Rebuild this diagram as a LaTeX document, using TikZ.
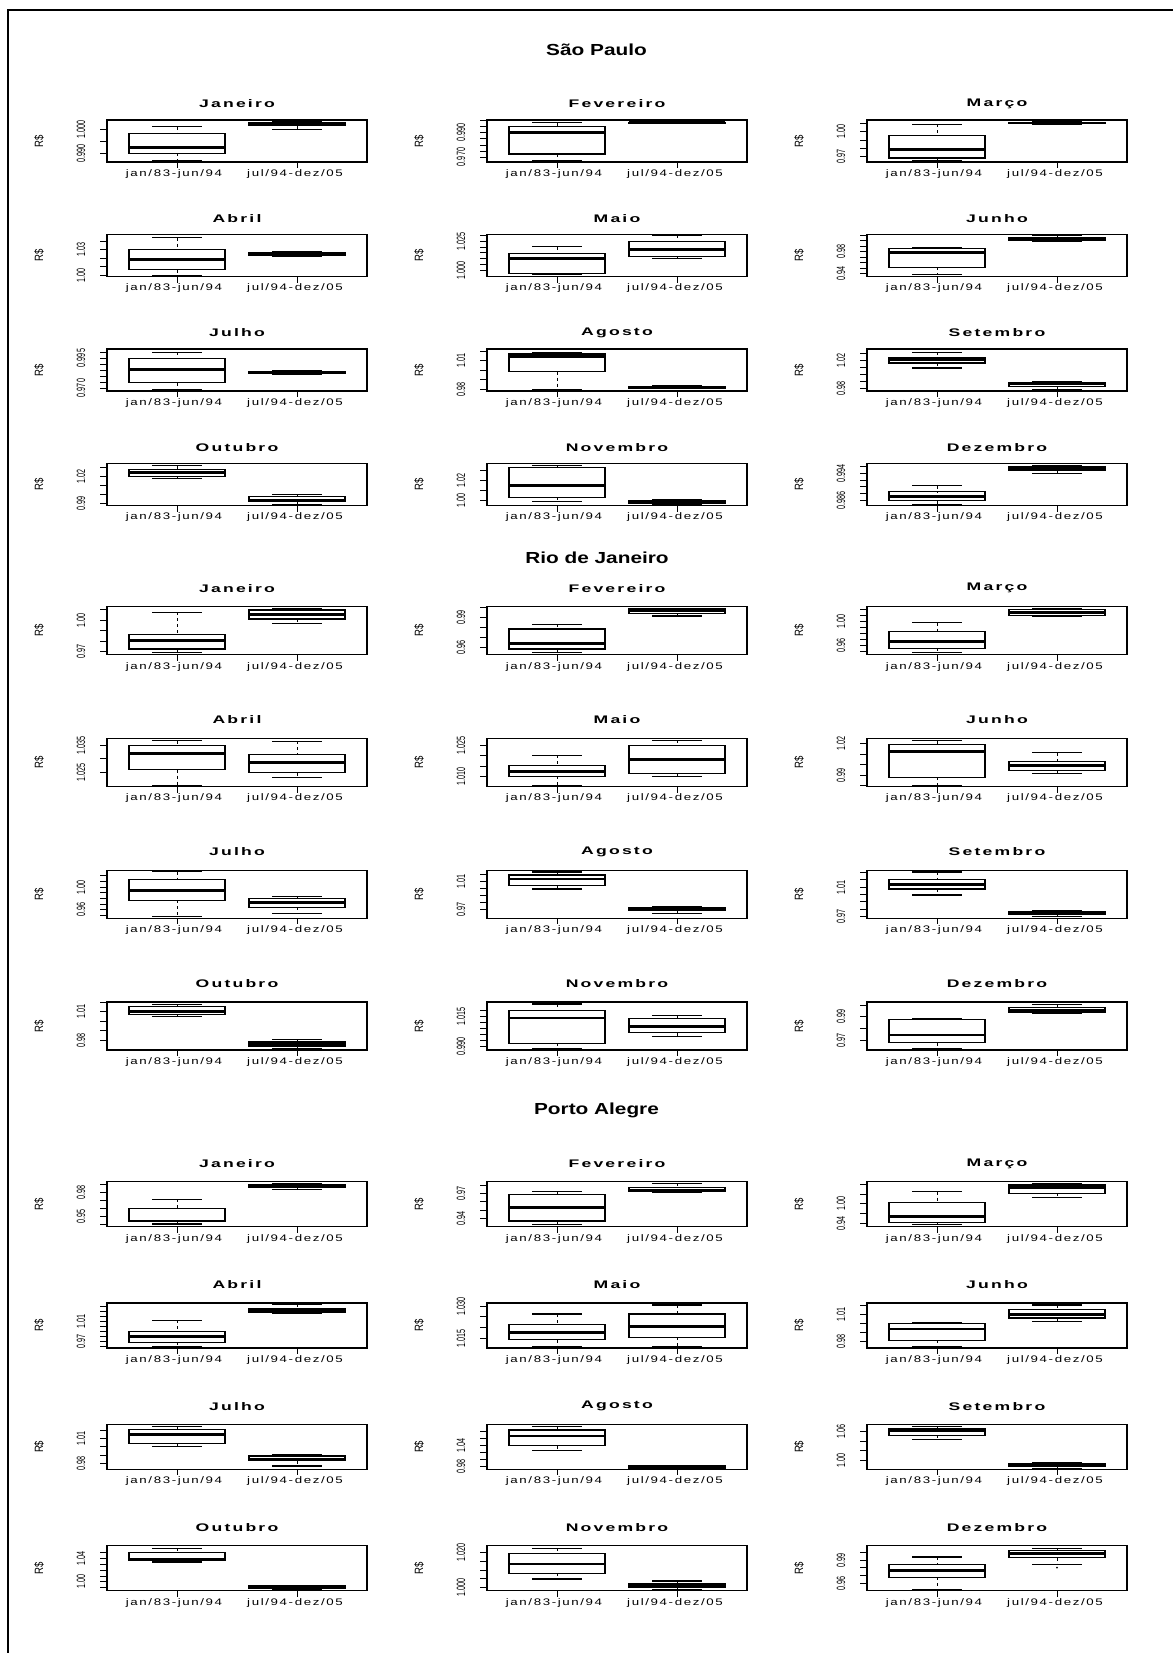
\documentclass[tikz,border=0pt]{standalone}
\usepackage{fontspec}
\setmainfont{Liberation Sans}
\newfontfamily\fontecabeca[FakeStretch=1.3]{Liberation Sans}
\newfontfamily\fontetitulo[FakeStretch=1.6,LetterSpace=20]{Liberation Sans}
\newfontfamily\fonteeixo[FakeStretch=1.4,LetterSpace=17]{Liberation Sans}
\newfontfamily\fontemarca[FakeStretch=0.6]{Liberation Sans}
\newfontfamily\fontemoeda[FakeStretch=0.8]{Liberation Sans}

\tikzset{
  moldura/.style={line width=1.2pt},
  caixa/.style={line width=1.1pt},
  mediana/.style={line width=2.8pt},
  bigode/.style={line width=0.8pt,dash pattern=on 3pt off 3pt},
  haste/.style={line width=1.1pt},
  marca/.style={line width=0.8pt},
  cabeca/.style={font=\fontecabeca\bfseries\fontsize{16}{18}\selectfont},
  titulo/.style={font=\fontetitulo\bfseries\fontsize{11}{13}\selectfont},
  eixo/.style={font=\fonteeixo\fontsize{9.5}{11}\selectfont},
  rotulo/.style={font=\fontemarca\fontsize{12}{14}\selectfont,rotate=90,inner sep=0pt},
  moeda/.style={font=\fontemoeda\fontsize{12}{14}\selectfont,rotate=90,inner sep=0pt}
}

% painel: nome, x esquerda, y topo, altura, titulo, marcas, rotulos, caixa 1, caixa 2
% cada caixa: bigode sup / quartil sup / mediana / quartil inf / bigode inf
\newcommand{\painel}[9]{%
  \draw[moldura] (#2,#3) rectangle ({#2+260},{#3+#4});
  \node[titulo] (#1-tit) at ({#2+130},{#3-\recuotitulo}) {#5};
  \node[moeda] (#1-rs) at ({#2-68},{#3+#4/2}) {R\$};
  \foreach \t in {#6} \draw[marca] ({#2-7},{#3+\t}) -- (#2,{#3+\t});
  \foreach \t/\l [count=\k] in {#7} \node[rotulo] (#1-y\k) at ({#2-26},{#3+\t}) {\l};
  \foreach \cx/\ws/\qs/\md/\qi/\wi in {70/#8,190/#9} {
    \draw[bigode] ({#2+\cx},{#3+\ws}) -- ({#2+\cx},{#3+\qs});
    \draw[bigode] ({#2+\cx},{#3+\qi}) -- ({#2+\cx},{#3+\wi});
    \draw[haste] ({#2+\cx-25},{#3+\ws}) -- ({#2+\cx+25},{#3+\ws});
    \draw[haste] ({#2+\cx-25},{#3+\wi}) -- ({#2+\cx+25},{#3+\wi});
    \draw[caixa] ({#2+\cx-48},{#3+\qs}) rectangle ({#2+\cx+48},{#3+\qi});
    \draw[mediana] ({#2+\cx-48},{#3+\md}) -- ({#2+\cx+48},{#3+\md});
    \draw[marca] ({#2+\cx},{#3+#4}) -- ({#2+\cx},{#3+#4+6});
  }
  \node[eixo] (#1-a) at ({#2+67},{#3+#4+12}) {jan/83-jun/94};
  \node[eixo] (#1-b) at ({#2+188},{#3+#4+12}) {jul/94-dez/05};
}

\begin{document}
\begin{tikzpicture}[x=1pt,y=-1pt]
  \useasboundingbox (0,0) rectangle (1173,1653);
  % Passo 1: moldura externa (so lados esquerdo e superior)
  \draw[line width=1.6pt] (8,1653) -- (8,10) -- (1173,10);

  % Passo 2: São Paulo
  \node[cabeca] (sp) at (596.5,50) {São Paulo};
  \def\recuotitulo{16}
  \painel{sp1}{107}{120}{42}{Janeiro}{9.3,21.3,33.3}{9.3/1.000,33.3/0.990}{6.7/13.3/27.7/33.3/40.3}{2/2.7/4/5.7/9.3}
  \painel{sp2}{487}{120}{42}{Fevereiro}{0.7,6,12.3,18.3,25,31,37}{12.3/0.990,37/0.970}{2.7/6.7/12.3/34/40.3}{1.7/2.3/2.7/3.3/3.7}
  \painel{sp3}{867}{120}{42}{Março}{3.3,11.7,20,28.3,36.7}{11.7/1.00,36.7/0.97}{4.3/15.7/29.3/38/40.3}{2/2.3/3/3.7/4}
  \painel{sp4}{107}{234.5}{42}{Abril}{6.7,15,24,32.3,41}{15/1.03,41/1.00}{3.3/15/25/35/41.5}{17.3/18.3/19.3/21/22}
  \painel{sp5}{487}{234.5}{42}{Maio}{1,6.7,12.7,18.3,24.3,30,36}{6.7/1.025,36/1.000}{12.3/19.3/24.3/39.3/39.6}{1/7.3/15/21.7/24.3}
  \painel{sp6}{867}{234.5}{42}{Junho}{0.5,6,11.5,17,22.5,28,33.5,39}{17/0.98,39/0.94}{12.7/14.3/18.3/32.7/40}{1/3/4.3/6.3/7}
  \painel{sp7}{107}{349}{42}{Julho}{3,9,15,21,27,33,39}{9/0.995,39/0.970}{3.3/9.3/20.7/33.7/41}{21.7/22.7/23.3/24.7/25.3}
  \painel{sp8}{487}{349}{42}{Agosto}{2.3,11.7,21,30.7,40}{11.7/1.01,40/0.98}{3.3/5/7.7/22.7/41}{37/37.7/38.7/39.3/39.7}
  \painel{sp9}{867}{349}{42}{Setembro}{4.8,11.7,18.5,25.3,32.2,39}{11.7/1.02,39/0.98}{3.3/8.3/10.3/14/19}{32.3/33.3/35/37.7/41}
  \painel{sp10}{107}{463.5}{42}{Outubro}{4.3,13.3,22.3,31,40}{13.3/1.02,40/0.99}{2/6/9.3/13.3/15}{31/33.3/37.3/38/40.7}
  \painel{sp11}{487}{463.5}{42}{Novembro}{6.7,16.7,26.7,36.7}{16.7/1.02,36.7/1.00}{1.7/4/22/33.7/38}{36/37/39/40/40.7}
  \painel{sp12}{867}{463.5}{42}{Dezembro}{3.3,10,16.7,23.3,30,36.7}{10/0.994,36.7/0.986}{22/28.3/32.7/37/40.7}{1.7/3.3/5/7.3/10.3}

  % Passo 3: Rio de Janeiro
  \node[cabeca] (rj) at (597,558) {Rio de Janeiro};
  \def\recuotitulo{18.5}
  \painel{rj1}{107}{606.7}{48}{Janeiro}{2.9,13.3,23.9,34.4,45}{13.3/1.00,45/0.97}{5.7/27.7/33.7/42.3/45.7}{1.7/3.3/7.7/12.3/16.7}
  \painel{rj2}{487}{606.7}{48}{Fevereiro}{0.6,10.7,20.8,30.9,41}{10.7/0.99,41/0.96}{17.7/22.3/37/42.3/45.7}{1.7/2.3/3.7/6.7/9.3}
  \painel{rj3}{867}{606.7}{48}{Março}{3,9,15,21,27,33,39,45}{15/1.00,39/0.96}{16/25/34.7/41.7/45.7}{1.7/3/6/8.7/10}
  \painel{rj4}{107}{738.5}{48}{Abril}{6.7,20.3,34}{6.7/1.035,34/1.025}{2/6.7/15/31/46.7}{2.7/16/24.3/34.3/39.3}
  \painel{rj5}{487}{738.5}{48}{Maio}{6.7,17.2,27.8,38.3}{6.7/1.025,38.3/1.010}{16.7/27.3/32.7/37.7/46.7}{1.7/7.3/21/35/37.7}
  \painel{rj6}{867}{738.5}{48}{Junho}{5,15.6,26.1,36.7,47.2}{5/1.02,36.7/0.99}{2/6/13.3/38.7/46.7}{14.3/22.7/26.7/32/35}
  \painel{rj7}{107}{870.3}{48}{Julho}{5.3,11,16.7,22.3,28,33.7,39.3,45}{16.7/1.00,39.3/0.96}{1.3/9.3/20/30/46}{26/28/32/37/43.3}
  \painel{rj8}{487}{870.3}{48}{Agosto}{3.9,11,18.1,25.2,32.3,39.3}{11/1.01,39.3/0.97}{1.7/4.7/8.7/15.3/18.7}{36.3/37/38.3/40.3/43.3}
  \painel{rj9}{867}{870.3}{48}{Setembro}{2,9.3,16.7,24,31.3,38.7,46}{16.7/1.01,46/0.97}{1.7/9.3/14.3/18.7/24.7}{40/41/42.3/44/46}
  \painel{rj10}{107}{1002}{48}{Outubro}{0.2,9.7,19.1,28.6,38}{9.7/1.01,38/0.98}{2.7/4.7/9.7/12.3/14.7}{37.3/40/42.3/44.7/46.7}
  \painel{rj11}{487}{1002}{48}{Novembro}{8.8,14.7,20.5,26.4,32.3,38.1,44}{14.7/1.015,44/0.990}{2/8.7/16/41.3/46.7}{13.3/16.3/24.7/30.7/34.7}
  \painel{rj12}{867}{1002}{48}{Dezembro}{3,14.7,26.3,38}{14.7/0.99,38/0.97}{16.7/17.3/33/40.7/46.7}{2.3/5.3/8.7/10.7/11.3}

  % Passo 4: Porto Alegre
  \node[cabeca] (pa) at (596.5,1110) {Porto Alegre};
  \def\recuotitulo{18}
  \painel{pa1}{107}{1181.7}{45}{Janeiro}{3,11,19,27,35,43}{11/0.98,35/0.95}{17.7/27/39.3/40/42.3}{1.7/2.7/5/5.7/7.7}
  \painel{pa2}{487}{1181.7}{45}{Fevereiro}{3.3,11.7,20,28.3,36.7}{11.7/0.97,36.7/0.94}{10/12.7/25.7/39.3/42.7}{1.7/5.7/8.3/9.3/10.3}
  \painel{pa3}{867}{1181.7}{45}{Março}{2.7,12.3,22,31.7,41.3}{22/1.00,41.3/0.94}{10/20.7/34.7/41/42.7}{1.7/3.3/5.7/11.7/15.7}
  \painel{pa4}{107}{1303}{45}{Abril}{3.3,8.3,13.3,18.3,23.3,28.3,33.3,38.3,43.3}{18.3/1.01,38.3/0.97}{17.3/28.3/33.7/39.3/43.3}{1/6/7.7/9.3/10}
  \painel{pa5}{487}{1303}{45}{Maio}{3.3,13.3,24,35}{3.3/1.030,35/1.015}{11/21.7/29.3/36.7/43.3}{2/11/23.3/34.3/43.3}
  \painel{pa6}{867}{1303}{45}{Junho}{2.7,11.7,20.6,29.4,38.3}{11.7/1.01,38.3/0.98}{19.3/20.7/26/37.3/43.3}{2/6.7/11.7/15/18.3}
  \painel{pa7}{107}{1424.3}{45}{Julho}{5.7,14,22.3,30.7,39}{14/1.01,39/0.98}{2.3/5/10/19/22.3}{30.3/31.7/34.7/36.3/41.7}
  \painel{pa8}{487}{1424.3}{45}{Agosto}{6.7,13.7,20.7,27.7,34.7,41.7}{20.7/1.04,41.7/0.98}{2.3/5.7/11.7/21.3/26.3}{41/41.3/42.3/43.7/44}
  \painel{pa9}{867}{1424.3}{45}{Setembro}{7.3,16.7,26.3,35.7}{7.3/1.06,35.7/1.00}{2.3/4/6.3/11/15}{38/39/40/41.7/44}
  \painel{pa10}{107}{1545.7}{45}{Outubro}{6.8,12.7,18.5,24.3,30.2,36,41.8}{12.7/1.04,36/1.00}{2.7/6.7/13.7/14.7/16.3}{39.7/40/41/42.3/43.7}
  \painel{pa11}{487}{1545.7}{45}{Novembro}{7,15.7,24.3,33,41.7}{7/1.020,41.7/1.000}{2.7/7.7/18.3/27.7/33.3}{35.3/38.3/41/41.7/43.7}
  \painel{pa12}{867}{1545.7}{45}{Dezembro}{6.7,14.3,22,30,37.7}{14.3/0.99,37.7/0.96}{11.3/18.7/25/31.7/43.7}{2.7/5/7.7/12/18.7}
  % ponto isolado em Dezembro
  \fill ({867+190},{1545.7+22}) circle (1);
\end{tikzpicture}
\end{document}
